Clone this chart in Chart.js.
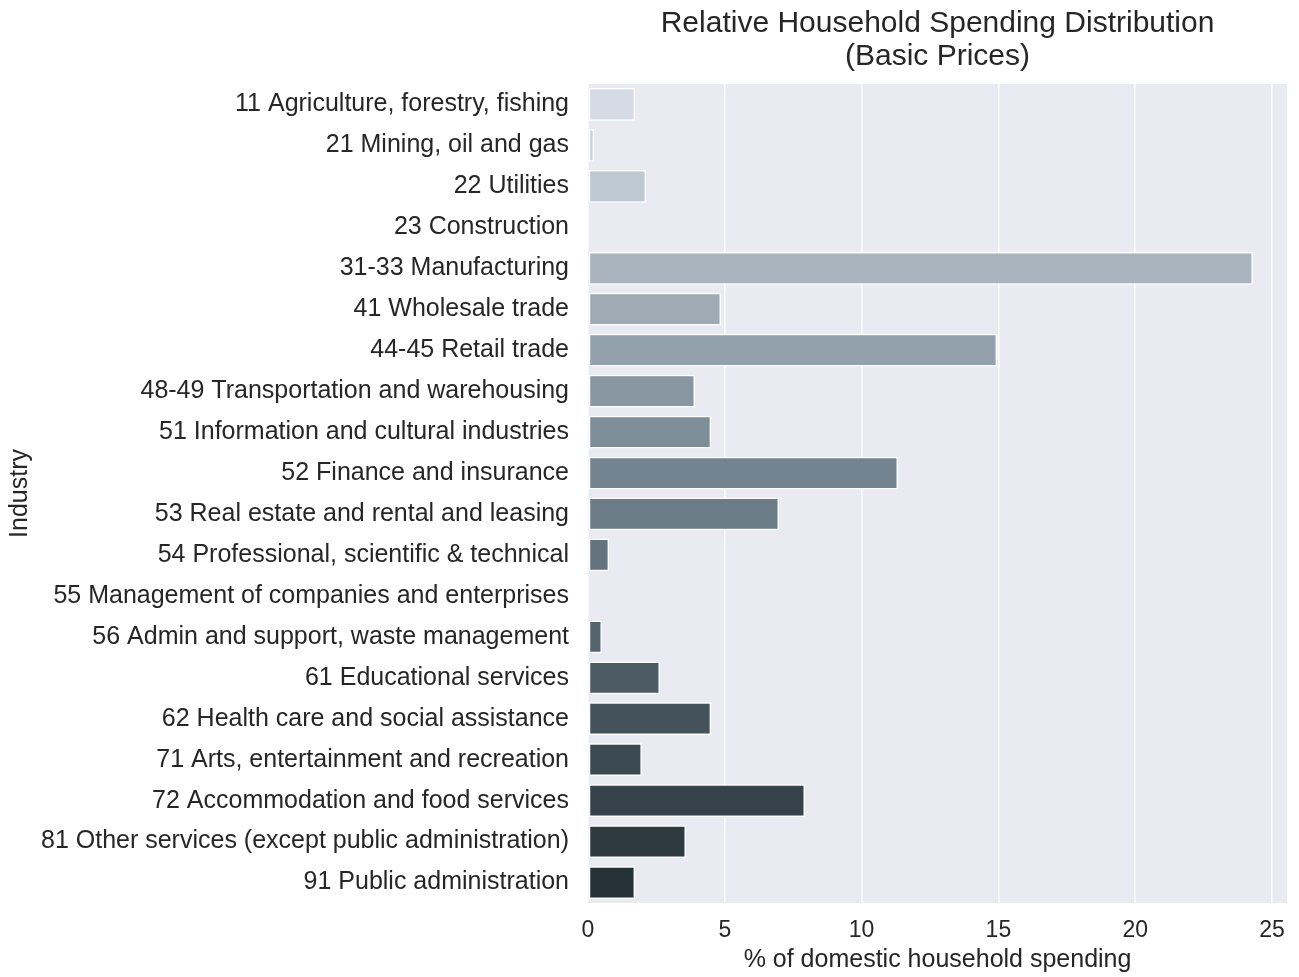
<!DOCTYPE html>
<html>
<head>
<meta charset="utf-8">
<script src="https://cdn.jsdelivr.net/npm/chart.js@4"></script>
<style>
  html, body { margin: 0; padding: 0; background: #fff; }
  #wrap { width: 1299px; height: 977px; }
</style>
</head>
<body>
<div id="wrap"><canvas id="myChart" width="1299" height="977"></canvas></div>
<script>
const industries = [
    '11 Agriculture, forestry, fishing',
    '21 Mining, oil and gas',
    '22 Utilities',
    '23 Construction',
    '31-33 Manufacturing',
    '41 Wholesale trade',
    '44-45 Retail trade',
    '48-49 Transportation and warehousing',
    '51 Information and cultural industries',
    '52 Finance and insurance',
    '53 Real estate and rental and leasing',
    '54 Professional, scientific & technical',
    '55 Management of companies and enterprises',
    '56 Admin and support, waste management',
    '61 Educational services',
    '62 Health care and social assistance',
    '71 Arts, entertainment and recreation',
    '72 Accommodation and food services',
    '81 Other services (except public administration)',
    '91 Public administration'
];
const spending = [1.72, 0.22, 2.12, 0, 24.3, 4.86, 14.95, 3.91, 4.5, 11.33,
                  6.98, 0.77, 0, 0.51, 2.63, 4.5, 1.97, 7.93, 3.58, 1.72];
const xTicks = [0, 5, 10, 15, 20, 25];

const FONT = 'Arial, "Liberation Sans", sans-serif';
const TEXT = '#262626';

// slate palette: light at the top, darkest at the bottom (anchor at the 10th bar)
const cTop = [212, 219, 228], cMid = [115, 132, 144], cBot = [37, 50, 55];
const barColors = industries.map((_, i) => {
    const n = industries.length - 1, mid = 9;
    const [a, b, t] = i <= mid ? [cTop, cMid, i / mid] : [cMid, cBot, (i - mid) / (n - mid)];
    const c = a.map((v, k) => Math.round(v + (b[k] - v) * t));
    return `rgb(${c[0]},${c[1]},${c[2]})`;
});

const plotBackground = {
    id: 'plotBackground',
    beforeDraw(chart) {
        const { ctx, chartArea: a } = chart;
        ctx.save();
        ctx.fillStyle = '#fff';
        ctx.fillRect(0, 0, chart.width, chart.height);
        ctx.fillStyle = '#eaeaf2';
        ctx.fillRect(a.left, a.top, a.right - a.left, a.bottom - a.top);
        ctx.restore();
    }
};

// title centred over the plot area, not the whole canvas
const plotTitle = {
    id: 'plotTitle',
    afterDraw(chart) {
        const { ctx, chartArea: a } = chart;
        const cx = (a.left + a.right) / 2;
        ctx.save();
        ctx.fillStyle = TEXT;
        ctx.font = '30px ' + FONT;
        ctx.textAlign = 'center';
        ctx.textBaseline = 'middle';
        ctx.fillText('Relative Household Spending Distribution', cx, 24);
        ctx.fillText('(Basic Prices)', cx, 57);
        ctx.restore();
    }
};

new Chart(document.getElementById('myChart'), {
    type: 'bar',
    data: {
        labels: industries,
        datasets: [{
            data: spending,
            backgroundColor: barColors,
            borderColor: '#ffffff',
            borderWidth: 1.5,
            borderSkipped: false,
            barPercentage: 0.8,
            categoryPercentage: 1.0
        }]
    },
    options: {
        indexAxis: 'y',
        responsive: false,
        animation: false,
        layout: { padding: { top: 84, right: 9, bottom: 0, left: 5 } },
        scales: {
            x: {
                min: 0,
                max: 25.55,
                afterBuildTicks(scale) {
                    scale.ticks = xTicks.map(v => ({ value: v }));
                },
                grid: { color: '#ffffff', lineWidth: 1.5, drawTicks: false },
                border: { display: false },
                ticks: { color: TEXT, font: { family: FONT, size: 23 }, padding: 14 },
                title: {
                    display: true,
                    text: '% of domestic household spending',
                    color: TEXT,
                    font: { family: FONT, size: 25 },
                    padding: { top: 0, bottom: 2 }
                },
                afterFit(scale) { scale.height = 74; }
            },
            y: {
                grid: { display: false, drawTicks: false },
                border: { display: false },
                ticks: { color: TEXT, font: { family: FONT, size: 25 }, padding: 19, autoSkip: false },
                title: {
                    display: true,
                    text: 'Industry',
                    color: TEXT,
                    font: { family: FONT, size: 25 },
                    padding: { top: 0, bottom: 4 }
                },
                afterFit(scale) { scale.width = 583; }
            }
        },
        plugins: {
            legend: { display: false },
            tooltip: { enabled: false }
        }
    },
    plugins: [plotBackground, plotTitle]
});
</script>
</body>
</html>
